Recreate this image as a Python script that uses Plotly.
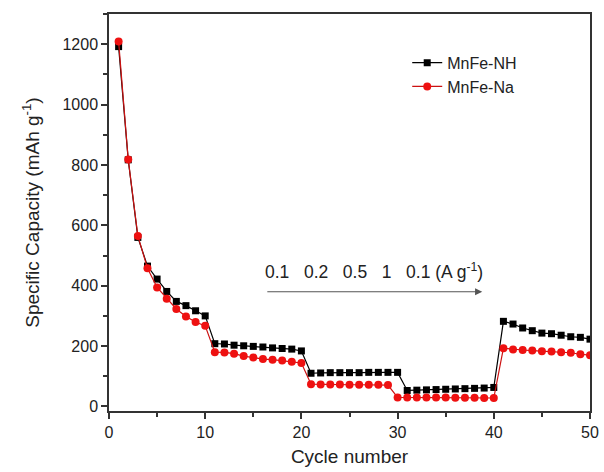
import plotly.graph_objects as go

cycles = list(range(1, 51))
mnfe_nh = [1192, 817, 560, 465, 422, 381, 348, 334, 317, 300,
           208, 207, 203, 201, 199, 197, 194, 192, 190, 184,
           110, 111, 112, 112, 112, 112, 113, 113, 113, 113,
           53, 54, 55, 56, 57, 58, 59, 60, 61, 63,
           282, 273, 260, 251, 243, 241, 236, 231, 229, 223]
mnfe_na = [1209, 818, 565, 458, 394, 357, 323, 298, 280, 267,
           180, 179, 175, 167, 162, 157, 155, 152, 148, 144,
           74, 73, 73, 73, 72, 72, 72, 72, 71, 30,
           30, 30, 30, 30, 30, 29, 29, 29, 28, 28,
           193, 189, 187, 185, 183, 182, 180, 178, 173, 170]

font_family = "Liberation Sans, Arial, sans-serif"

fig = go.Figure()
fig.add_trace(go.Scatter(x=cycles, y=mnfe_nh, mode="lines+markers", name="MnFe-NH",
                         line=dict(color="black", width=1.2),
                         marker=dict(symbol="square", size=7, color="black")))
fig.add_trace(go.Scatter(x=cycles, y=mnfe_na, mode="lines+markers", name="MnFe-Na",
                         line=dict(color="#cc1111", width=1.2),
                         marker=dict(symbol="circle", size=8, color="#ee1111")))

fig.add_annotation(x=38.8, y=380, ax=16.3, ay=380, xref="x", yref="y", axref="x", ayref="y",
                   showarrow=True, arrowhead=2, arrowsize=1.2, arrowwidth=1.2, arrowcolor="#555",
                   text="")
fig.add_annotation(x=27.5, y=448, xref="x", yref="y", showarrow=False,
                   text="0.1   0.2   0.5   1   0.1 (A g<sup>-1</sup>)",
                   font=dict(size=17.5, color="#222", family=font_family))

axis_common = dict(showline=True, linecolor="#333", linewidth=1.5, mirror=True,
                   ticks="outside", ticklen=6, tickwidth=1.5, tickcolor="#333",
                   showgrid=False, zeroline=False, automargin=False,
                   tickfont=dict(size=16, color="#222", family=font_family))

fig.update_layout(
    width=604, height=472,
    margin=dict(l=109, r=14, t=14, b=61),
    plot_bgcolor="white", paper_bgcolor="white",
    font=dict(family=font_family, color="#222"),
    xaxis=dict(range=[0, 50], dtick=10,
               minor=dict(ticks="outside", dtick=5, ticklen=4, tickcolor="#333"),
               title=dict(text="Cycle number", font=dict(size=19, family=font_family), standoff=10),
               **axis_common),
    yaxis=dict(range=[-15, 1300], dtick=200, tick0=0,
               minor=dict(ticks="outside", dtick=100, ticklen=4, tickcolor="#333"),
               title=dict(text="Specific Capacity (mAh g<sup>-1</sup>)", font=dict(size=19, family=font_family), standoff=18),
               **axis_common),
    legend=dict(x=0.62, y=0.92, xanchor="left", yanchor="top",
                bgcolor="rgba(0,0,0,0)", font=dict(size=16, family=font_family),
                tracegroupgap=0),
    showlegend=True,
)

fig.write_html("out.html")
